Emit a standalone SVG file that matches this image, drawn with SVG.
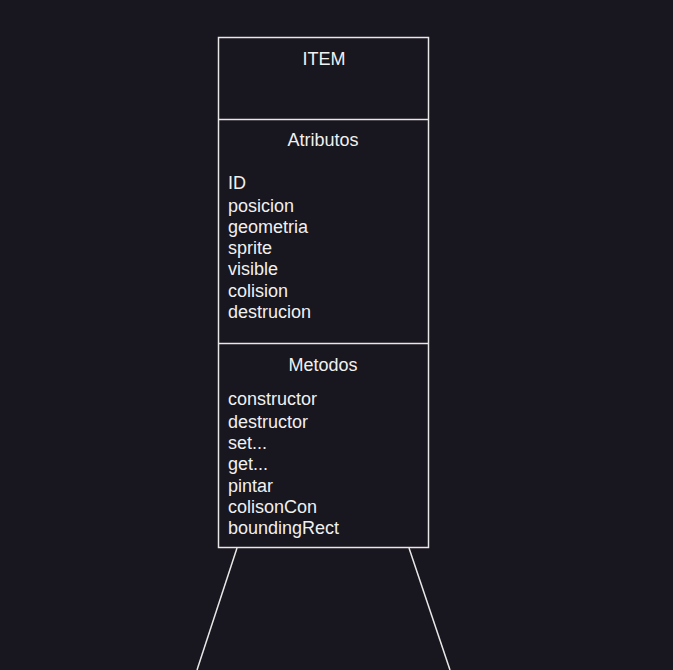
<svg xmlns="http://www.w3.org/2000/svg" width="673" height="670" viewBox="0 0 673 670">
<style>
.bg{fill:#18161e}
.box{fill:#18161e;stroke:#e8e8e8;stroke-width:1.5}
.div{stroke:#e8e8e8;stroke-width:1.5}
.t{font-family:"Liberation Sans",Arial,sans-serif;font-size:18px;fill:#f0f0f0}
.c{text-anchor:middle}
.conn{stroke:#e8e8e8;stroke-width:1.5;fill:none}
</style>
<rect class="bg" x="0" y="0" width="673" height="670"/>
<g id="connectors">
<line class="conn" x1="237" y1="548" x2="197" y2="670"/>
<line class="conn" x1="409" y1="548" x2="450" y2="670"/>
</g>
<g id="item">
<rect class="box" x="218.5" y="37.5" width="210" height="510"/>
<line class="div" x1="218.5" y1="119.5" x2="428.5" y2="119.5"/>
<line class="div" x1="218.5" y1="343.5" x2="428.5" y2="343.5"/>
<text class="t c" x="324" y="65">ITEM</text>
<text class="t c" x="323" y="146">Atributos</text>
<text class="t" x="228" y="189">ID</text>
<text class="t" x="228" y="212">posicion</text>
<text class="t" x="228" y="233">geometria</text>
<text class="t" x="228" y="254">sprite</text>
<text class="t" x="228" y="275">visible</text>
<text class="t" x="228" y="297">colision</text>
<text class="t" x="228" y="318">destrucion</text>
<text class="t c" x="323" y="371">Metodos</text>
<text class="t" x="228" y="405">constructor</text>
<text class="t" x="228" y="428">destructor</text>
<text class="t" x="228" y="449">set...</text>
<text class="t" x="228" y="470">get...</text>
<text class="t" x="228" y="492">pintar</text>
<text class="t" x="228" y="513">colisonCon</text>
<text class="t" x="228" y="534">boundingRect</text>
</g>
</svg>
